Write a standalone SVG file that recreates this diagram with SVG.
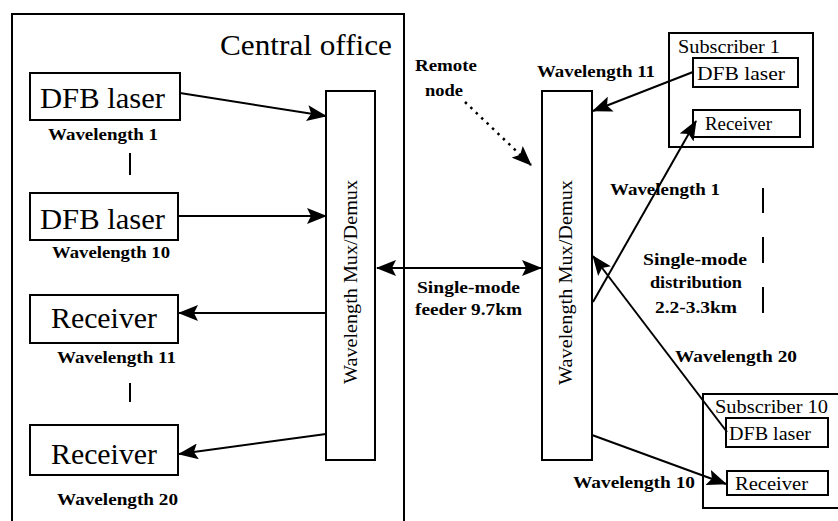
<svg xmlns="http://www.w3.org/2000/svg" width="838" height="521" viewBox="0 0 838 521">
<style>
.box{fill:#fff;stroke:#000;stroke-width:2}
.frame{fill:none;stroke:#000;stroke-width:2}
text{font-family:"Liberation Serif","Tinos","Times New Roman","Nimbus Roman","DejaVu Serif",serif;fill:#000}
.big{font-size:30px}
.mid{font-size:18px}
.lbl{font-size:16px;font-weight:bold}
.ln{fill:none;stroke:#000;stroke-width:2}
.dot{fill:none;stroke:#000;stroke-width:2.5;stroke-dasharray:2.5,5}
</style>
<defs>
<marker id="ah" markerUnits="userSpaceOnUse" markerWidth="20" markerHeight="16" refX="19" refY="8" orient="auto-start-reverse" viewBox="0 0 20 16">
<path d="M0,0 L20,8 L0,16 L4,8 z" fill="#000"/>
</marker>
</defs>
<rect width="838" height="521" fill="#fff"/>

<g id="central-office">
<rect class="frame" x="12" y="14" width="392" height="530"/>
<text class="big" x="220" y="55" textLength="172" lengthAdjust="spacingAndGlyphs">Central office</text>
</g>

<g id="dfb1">
<rect class="box" x="30" y="73" width="150" height="47"/>
<text class="big" x="40" y="108" textLength="125" lengthAdjust="spacingAndGlyphs">DFB laser</text>
<text class="lbl" x="48" y="140" textLength="110" lengthAdjust="spacingAndGlyphs">Wavelength 1</text>
</g>

<g id="dfb10">
<rect class="box" x="30" y="193" width="148" height="47"/>
<text class="big" x="40" y="229" textLength="125" lengthAdjust="spacingAndGlyphs">DFB laser</text>
<text class="lbl" x="52" y="258" textLength="118" lengthAdjust="spacingAndGlyphs">Wavelength 10</text>
</g>

<g id="rx11">
<rect class="box" x="30" y="295" width="148" height="48"/>
<text class="big" x="51" y="328" textLength="106" lengthAdjust="spacingAndGlyphs">Receiver</text>
<text class="lbl" x="57" y="363" textLength="119" lengthAdjust="spacingAndGlyphs">Wavelength 11</text>
</g>

<g id="rx20">
<rect class="box" x="30" y="425" width="148" height="50"/>
<text class="big" x="51" y="464" textLength="106" lengthAdjust="spacingAndGlyphs">Receiver</text>
<text class="lbl" x="57" y="505" textLength="121" lengthAdjust="spacingAndGlyphs">Wavelength 20</text>
</g>

<g id="ellipsis-left">
<line class="ln" x1="130" y1="153" x2="130" y2="175"/>
<line class="ln" x1="130" y1="383" x2="130" y2="402"/>
</g>

<g id="mux-co">
<rect class="box" x="326" y="91" width="49" height="369"/>
<text class="mid" transform="translate(357,384) rotate(-90)" x="0" y="0" font-size="19" textLength="204" lengthAdjust="spacingAndGlyphs">Wavelength Mux/Demux</text>
</g>

<g id="mux-rn">
<rect class="box" x="542" y="91" width="50" height="369"/>
<text class="mid" transform="translate(572,385) rotate(-90)" x="0" y="0" font-size="19" textLength="205" lengthAdjust="spacingAndGlyphs">Wavelength Mux/Demux</text>
</g>

<g id="remote-label">
<text class="lbl" x="415" y="71" textLength="62" lengthAdjust="spacingAndGlyphs">Remote</text>
<text class="lbl" x="425" y="96" textLength="38" lengthAdjust="spacingAndGlyphs">node</text>
</g>

<g id="feeder-label">
<text class="lbl" x="417" y="293" textLength="103" lengthAdjust="spacingAndGlyphs">Single-mode</text>
<text class="lbl" x="415" y="315" textLength="107" lengthAdjust="spacingAndGlyphs">feeder 9.7km</text>
</g>

<g id="distribution-label">
<text class="lbl" x="643" y="265" textLength="104" lengthAdjust="spacingAndGlyphs">Single-mode</text>
<text class="lbl" x="650" y="288" textLength="92" lengthAdjust="spacingAndGlyphs">distribution</text>
<text class="lbl" x="655" y="313" textLength="82" lengthAdjust="spacingAndGlyphs">2.2-3.3km</text>
</g>

<g id="ellipsis-right">
<line class="ln" x1="763" y1="188" x2="763" y2="213"/>
<line class="ln" x1="763" y1="237" x2="763" y2="263"/>
<line class="ln" x1="763" y1="287" x2="763" y2="313"/>
</g>

<g id="subscriber1">
<rect class="frame" x="669" y="33" width="144" height="114"/>
<text class="mid" x="678" y="53" textLength="102" lengthAdjust="spacingAndGlyphs">Subscriber 1</text>
<rect class="box" x="693" y="58" width="105" height="29"/>
<text class="mid" x="697" y="80" textLength="88" lengthAdjust="spacingAndGlyphs">DFB laser</text>
<rect class="box" x="693" y="110" width="107" height="27"/>
<text class="mid" x="705" y="130" textLength="67" lengthAdjust="spacingAndGlyphs">Receiver</text>
</g>

<g id="subscriber10">
<rect class="frame" x="703" y="394" width="145" height="114"/>
<text class="mid" x="715" y="413" textLength="113" lengthAdjust="spacingAndGlyphs">Subscriber 10</text>
<rect class="box" x="726" y="418" width="102" height="29"/>
<text class="mid" x="729" y="440" textLength="82" lengthAdjust="spacingAndGlyphs">DFB laser</text>
<rect class="box" x="727" y="471" width="101" height="24"/>
<text class="mid" x="735" y="490" textLength="73" lengthAdjust="spacingAndGlyphs">Receiver</text>
</g>

<g id="wavelength-labels">
<text class="lbl" x="537" y="77" textLength="118" lengthAdjust="spacingAndGlyphs">Wavelength 11</text>
<text class="lbl" x="610" y="195" textLength="110" lengthAdjust="spacingAndGlyphs">Wavelength 1</text>
<text class="lbl" x="675" y="362" textLength="122" lengthAdjust="spacingAndGlyphs">Wavelength 20</text>
<text class="lbl" x="573" y="488" textLength="122" lengthAdjust="spacingAndGlyphs">Wavelength 10</text>
</g>

<g id="connectors">
<line class="ln" x1="180" y1="93" x2="326" y2="116" marker-end="url(#ah)"/>
<line class="ln" x1="178" y1="216" x2="326" y2="216" marker-end="url(#ah)"/>
<line class="ln" x1="326" y1="313" x2="179" y2="313" marker-end="url(#ah)"/>
<line class="ln" x1="326" y1="434" x2="179" y2="454" marker-end="url(#ah)"/>
<line class="ln" x1="377" y1="268" x2="541" y2="268" marker-start="url(#ah)" marker-end="url(#ah)"/>
<line class="dot" x1="465" y1="102" x2="531" y2="165" marker-end="url(#ah)"/>
<line class="ln" x1="693" y1="72" x2="593" y2="111" marker-end="url(#ah)"/>
<line class="ln" x1="593" y1="302" x2="696" y2="121" marker-end="url(#ah)"/>
<line class="ln" x1="727" y1="432" x2="593" y2="256" marker-end="url(#ah)"/>
<line class="ln" x1="592" y1="435" x2="726" y2="484" marker-end="url(#ah)"/>
</g>
</svg>
